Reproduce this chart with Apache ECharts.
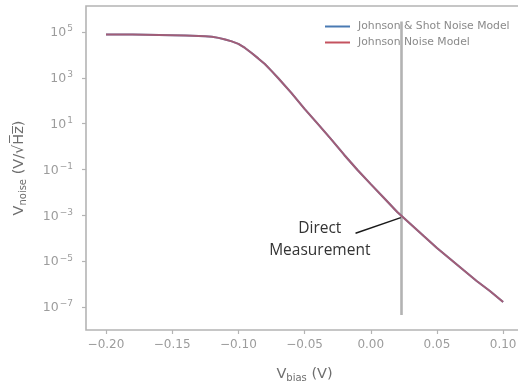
<!DOCTYPE html>
<html>
<head>
<meta charset="utf-8">
<script src="https://cdn.jsdelivr.net/npm/echarts@6/dist/echarts.min.js"></script>
<style>
  html, body { margin: 0; padding: 0; background: #ffffff; }
  #chart { width: 518px; height: 383px; }
</style>
</head>
<body>
<div id="chart"></div>
<script>
// Bias voltage sweep (V); denser around the knee of the curve
const biasVoltage = [
  -0.20, -0.19, -0.18, -0.17, -0.16, -0.15, -0.14, -0.13,
  -0.125, -0.12, -0.115, -0.11, -0.105, -0.10, -0.095, -0.09, -0.085, -0.08, -0.075, -0.07,
  -0.06, -0.05, -0.04, -0.03, -0.02, -0.01,
   0.00,  0.01,  0.02,  0.03,  0.04,  0.05,  0.06,  0.07,  0.08,  0.09, 0.10
];

// Noise voltage density, Johnson + shot noise model (V/sqrt(Hz))
const johnsonShotNoise = [
  7.8e4, 7.8e4, 7.8e4, 7.6e4, 7.4e4, 7.2e4, 7.0e4, 6.7e4,
  6.4e4, 6.1e4, 5.5e4, 4.7e4, 3.85e4, 3.0e4, 2.0e4, 1.2e4, 7.0e3, 4.0e3, 2.0e3, 9.8e2,
  2.2e2, 4.4e1, 9.7, 2.1, 4.3e-1, 9.5e-2,
  2.3e-2, 5.7e-3, 1.4e-3, 4.2e-4, 1.26e-4, 3.8e-5, 1.25e-5, 4.1e-6, 1.37e-6, 5.0e-7, 1.66e-7
];

// Noise voltage density, Johnson noise only (V/sqrt(Hz))
const johnsonNoise = [
  7.8e4, 7.8e4, 7.8e4, 7.6e4, 7.4e4, 7.2e4, 7.0e4, 6.7e4,
  6.4e4, 6.1e4, 5.5e4, 4.7e4, 3.85e4, 3.0e4, 2.0e4, 1.2e4, 7.0e3, 4.0e3, 2.0e3, 9.8e2,
  2.2e2, 4.4e1, 9.7, 2.1, 4.3e-1, 9.5e-2,
  2.3e-2, 5.7e-3, 1.4e-3, 4.2e-4, 1.26e-4, 3.8e-5, 1.25e-5, 4.1e-6, 1.37e-6, 5.0e-7, 1.66e-7
];

const seriesNames = ['Johnson & Shot Noise Model', 'Johnson Noise Model'];

// Tick positions
const xTicks = [-0.20, -0.15, -0.10, -0.05, 0.00, 0.05, 0.10];
const yTicks = [1e-7, 1e-5, 1e-3, 1e-1, 1e1, 1e3, 1e5];

// Operating point where the direct measurement was taken
const measureBias = 0.0227;
const measureLineSpan = [Math.pow(10, -7.35), Math.pow(10, 5.45)];
const arrowTail = [-0.0115, Math.pow(10, -3.78)];
const arrowHead = [0.0227, Math.pow(10, -3.1)];
const annotationAt = [-0.0385, Math.pow(10, -4.04)];
const annotationText = 'Direct\nMeasurement';

const pairs = (xs, ys) => xs.map((x, i) => [x, ys[i]]);
const minus = s => String(s).replace('-', '\u2212');

const chart = echarts.init(document.getElementById('chart'), null, { renderer: 'canvas' });

const tickColor = '#9c9c9c';
const spineColor = '#b4b4b4';
const titleColor = '#6e6e6e';

chart.setOption({
  animation: false,
  backgroundColor: '#ffffff',
  textStyle: { fontFamily: 'DejaVu Sans' },
  grid: {
    left: 86, top: 6, width: 437, height: 324,
    outerBoundsMode: 'none',
    containLabel: false,
    show: true, borderColor: spineColor, borderWidth: 1.6,
    backgroundColor: 'transparent'
  },
  legend: {
    orient: 'vertical',
    left: 320, top: 16,
    itemWidth: 25, itemHeight: 2, itemGap: 5,
    icon: 'rect',
    data: seriesNames,
    textStyle: { color: '#8a8a8a', fontSize: 10.8, fontFamily: 'DejaVu Sans', padding: [0, 0, 0, 3] }
  },
  xAxis: {
    type: 'value',
    min: -0.2151, max: 0.115,
    axisLine: { show: false, onZero: false },
    splitLine: { show: false },
    axisTick: { show: true, inside: false, length: 4, lineStyle: { color: spineColor, width: 1.2 }, customValues: xTicks },
    axisLabel: {
      customValues: xTicks,
      color: tickColor, fontSize: 12, margin: 9,
      formatter: v => minus(v.toFixed(2))
    },
    name: '{v|V}{s|bias}{v| (V)}',
    nameLocation: 'middle',
    nameGap: 35,
    nameTextStyle: {
      rich: {
        v: { fontSize: 14.5, color: titleColor, fontFamily: 'DejaVu Sans', lineHeight: 18 },
        s: { fontSize: 10, color: titleColor, fontFamily: 'DejaVu Sans', verticalAlign: 'bottom', lineHeight: 12 }
      }
    }
  },
  yAxis: {
    type: 'log',
    logBase: 10,
    min: 1e-8, max: Math.pow(10, 6.13),
    axisLine: { show: false, onZero: false },
    splitLine: { show: false },
    minorTick: { show: false },
    axisTick: { show: true, length: 4, lineStyle: { color: spineColor, width: 1.2 }, customValues: yTicks },
    axisLabel: {
      customValues: yTicks,
      margin: 13,
      formatter: v => {
        const e = Math.round(Math.log10(v));
        return '{b|10}{e|' + minus(e) + '}';
      },
      rich: {
        b: { fontSize: 12.5, color: tickColor, fontFamily: 'DejaVu Sans', lineHeight: 15, verticalAlign: 'bottom' },
        e: { fontSize: 9, color: tickColor, fontFamily: 'DejaVu Sans', lineHeight: 15, verticalAlign: 'top', padding: [0, 0, 6, 1] }
      }
    },
    name: '{v|V}{s|noise}{v| (V/\u221AH\u0305z\u0305)}',
    nameLocation: 'middle',
    nameRotate: 90,
    nameGap: 58,
    nameTextStyle: {
      rich: {
        v: { fontSize: 14.5, color: titleColor, fontFamily: 'DejaVu Sans', lineHeight: 18 },
        s: { fontSize: 10, color: titleColor, fontFamily: 'DejaVu Sans', verticalAlign: 'bottom', lineHeight: 12 }
      }
    }
  },
  series: [
    {
      name: seriesNames[0],
      type: 'line',
      data: pairs(biasVoltage, johnsonShotNoise),
      smooth: false,
      showSymbol: false,
      z: 2,
      color: '#4a7ab3',
      lineStyle: { width: 2, color: '#4a7ab3' },
      markLine: {
        silent: true,
        symbol: ['none', 'none'],
        label: { show: false },
        lineStyle: { color: '#b3b3b3', width: 2.6, type: 'solid' },
        data: [[
          { coord: [measureBias, measureLineSpan[0]] },
          { coord: [measureBias, measureLineSpan[1]] }
        ]],
        z: 1
      }
    },
    {
      name: seriesNames[1],
      type: 'line',
      data: pairs(biasVoltage, johnsonNoise),
      smooth: false,
      showSymbol: false,
      z: 3,
      color: '#c4525f',
      lineStyle: { width: 2, color: '#c4525f', opacity: 0.72 },
      markLine: {
        silent: true,
        symbol: ['none', 'arrow'],
        symbolSize: [0, 9],
        label: { show: false },
        lineStyle: { color: '#1a1a1a', width: 1.5, type: 'solid' },
        data: [[ { coord: arrowTail }, { coord: arrowHead } ]]
      },
      markPoint: {
        silent: true,
        symbol: 'circle',
        symbolSize: 1,
        itemStyle: { color: 'rgba(0,0,0,0)' },
        label: {
          show: true,
          position: 'inside',
          formatter: annotationText,
          color: '#333333',
          fontSize: 15.5,
          lineHeight: 22,
          align: 'center',
          fontFamily: 'Open Sans'
        },
        data: [{ coord: annotationAt }]
      }
    }
  ]
});
</script>
</body>
</html>
